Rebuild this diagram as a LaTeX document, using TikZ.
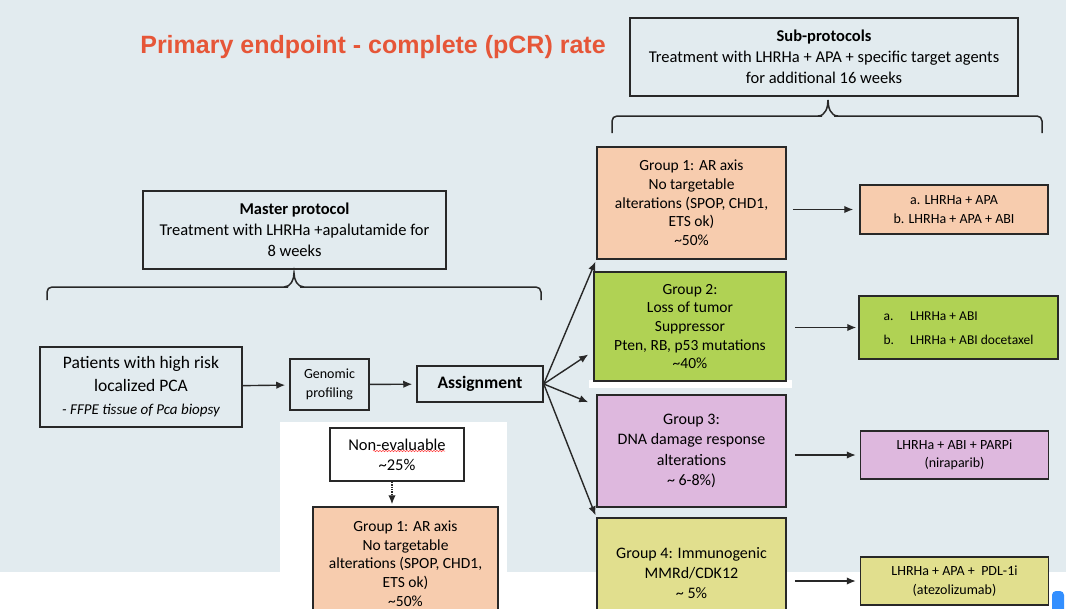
\documentclass[tikz,border=0pt]{standalone}
\usepackage{fontspec}
\setmainfont{Carlito}
\newfontfamily\titlefont{Liberation Sans}
\usetikzlibrary{arrows.meta,decorations.pathmorphing}

\definecolor{slidebg}{RGB}{226,235,239}
\definecolor{boxline}{RGB}{40,40,40}
\definecolor{titlered}{RGB}{230,86,56}
\definecolor{peach}{RGB}{247,204,174}
\definecolor{leaf}{RGB}{176,210,84}
\definecolor{orchid}{RGB}{222,184,222}
\definecolor{straw}{RGB}{225,223,142}

\tikzset{
  protobox/.style={draw=boxline, line width=1.5pt, align=center, inner sep=2pt},
  groupbox/.style={protobox, minimum width=189pt, minimum height=112pt,
    font=\fontsize{15.5}{18.7}\selectfont},
  treatbox/.style={protobox, minimum width=188pt, minimum height=48pt,
    font=\fontsize{14}{18.5}\selectfont},
  arr/.style={draw=boxline, line width=1.4pt, -{Latex[length=9pt,width=7.5pt]}},
  bracket/.style={draw=boxline, line width=1.5pt, rounded corners=5pt},
}

\begin{document}
\begin{tikzpicture}[x=1pt,y=-1pt]

  \useasboundingbox (0,0) rectangle (1066,608);

  % slide background
  \fill[slidebg] (0,0) rectangle (1066,572);
  \fill[white] (0,572) rectangle (1066,608);
  \fill[white] (280,422) rectangle (507,608);
  \fill[white] (589,380) rectangle (792,388);
  \fill[blue!55!cyan!80, rounded corners=4pt] (1052,591) rectangle (1064,614);

  \node[text=titlered, font=\titlefont\bfseries\fontsize{25}{30}\selectfont]
    (title) at (373,47) {Primary endpoint - complete (pCR) rate};

  % master protocol part
  \node[protobox, minimum width=303pt, minimum height=78pt,
    font=\fontsize{16.5}{21}\selectfont] (master) at (294.5,230)
    {\textbf{Master protocol}\\Treatment with LHRHa +apalutamide for\\8 weeks};
  \draw[bracket] (47,300) -- (47,287) -- (288,287);
  \draw[boxline, line width=1.5pt] (284,287) to[out=0,in=-90] (294,273)
    to[out=-90,in=180] (304,287);
  \draw[bracket] (300,287) -- (541,287) -- (541,300);

  \node[protobox, minimum width=202pt, minimum height=80pt,
    font=\fontsize{17.5}{23}\selectfont] (patients) at (141,387)
    {Patients with high risk\\localized PCA\\{\fontsize{15}{20}\selectfont\itshape - FFPE tissue of Pca biopsy}};
  \node[protobox, minimum width=79pt, minimum height=51pt,
    font=\fontsize{14}{19}\selectfont] (genomic) at (329.5,384.5)
    {Genomic\\profiling};
  \node[protobox, minimum width=126pt, minimum height=36pt,
    font=\fontsize{17.5}{21}\selectfont] (assign) at (480,384)
    {\textbf{Assignment}};

  \draw[arr, shorten >=4pt] (patients) -- (genomic);
  \draw[arr, shorten >=4pt] (genomic) -- (assign);

  \node[protobox, fill=white, minimum width=134pt, minimum height=53pt,
    font=\fontsize{16.5}{20}\selectfont] (noneval) at (397,454.5)
    {Non-evaluable\\\textasciitilde25\%};
  \draw[red!75, line width=0.5pt, decorate,
    decoration={snake, amplitude=0.7pt, segment length=3pt}] (373,451) -- (445,451);
  \node[groupbox, fill=peach, minimum width=185pt, minimum height=113pt]
    (lowgroup) at (405.5,563.5)
    {Group 1: AR axis\\No targetable\\alterations (SPOP, CHD1,\\ETS ok)\\\textasciitilde50\%};
  \draw[arr, densely dotted, shorten >=2pt] ([xshift=-5pt]noneval.south)
    -- ([xshift=-5pt]noneval.south |- lowgroup.north);

  % sub-protocols part
  \node[protobox, minimum width=388pt, minimum height=78pt,
    font=\fontsize{16.5}{21}\selectfont] (sub) at (824,57)
    {\textbf{Sub-protocols}\\Treatment with LHRHa + APA + specific target agents\\for additional 16 weeks};
  \draw[bracket] (612,133) -- (612,116) -- (822,116);
  \draw[boxline, line width=1.5pt] (818,116) to[out=0,in=-90] (828,100)
    to[out=-90,in=180] (838,116);
  \draw[bracket] (834,116) -- (1042,116) -- (1042,133);

  \node[groupbox, fill=peach] (g1) at (691.5,203)
    {Group 1: AR axis\\No targetable\\alterations (SPOP, CHD1,\\ETS ok)\\\textasciitilde50\%};
  \node[groupbox, fill=leaf, minimum width=192pt, minimum height=109pt]
    (g2) at (690,326.5)
    {Group 2:\\Loss of tumor\\Suppressor\\Pten, RB, p53 mutations\\\textasciitilde40\%};
  \node[groupbox, fill=orchid, font=\fontsize{16}{20.5}\selectfont] (g3) at (691.5,451)
    {Group 3:\\DNA damage response\\alterations\\\textasciitilde{} 6-8\%)};
  \node[groupbox, fill=straw, minimum height=110pt, font=\fontsize{16}{20}\selectfont]
    (g4) at (691.5,573)
    {Group 4: Immunogenic\\MMRd/CDK12\\\textasciitilde{} 5\%};

  \draw[arr, shorten >=2pt] (assign.east) -- (g1.south west);
  \draw[arr] (assign.east) -- ([xshift=-5pt,yshift=-28pt]g2.west);
  \draw[arr] (assign.east) -- ([xshift=-8pt,yshift=-8pt]g3.north west);
  \draw[arr, shorten >=2pt] (assign.east) -- (g4.north west);

  \node[treatbox, fill=peach, minimum height=49pt] (t1) at (954,209.5)
    {a. LHRHa + APA\\b. LHRHa + APA + ABI};
  \node[treatbox, fill=leaf, minimum width=199pt, minimum height=63pt,
    font=\fontsize{13.5}{18.5}\selectfont] (t2) at (958.5,327.5)
    {\renewcommand{\arraystretch}{1.35}%
     \begin{tabular}{@{}l@{\hspace{16pt}}l@{}}a. & LHRHa + ABI\\b. & LHRHa + ABI docetaxel\end{tabular}};
  \node[treatbox, fill=orchid] (t3) at (954.5,455)
    {LHRHa + ABI + PARPi\\(niraparib)};
  \node[treatbox, fill=straw] (t4) at (954.5,581)
    {LHRHa + APA +~ PDL-1i\\(atezolizumab)};

  \draw[arr, shorten <=6pt, shorten >=6pt] (g1.east |- t1) -- (t1);
  \draw[arr, shorten <=8pt, shorten >=2pt] (g2.east |- t2) -- (t2);
  \draw[arr, shorten <=8pt, shorten >=4pt] (g3.east |- t3) -- (t3);
  \draw[arr, shorten <=8pt, shorten >=4pt] (g4.east |- t4) -- (t4);

\end{tikzpicture}
\end{document}
